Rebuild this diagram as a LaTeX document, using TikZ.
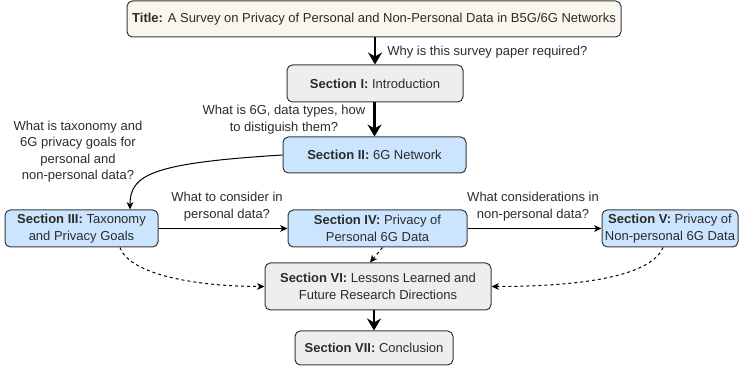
\documentclass[tikz,border=0pt]{standalone}
\usepackage{fontspec}
\setmainfont{Liberation Sans}
\usetikzlibrary{arrows.meta,calc}
\definecolor{bord}{HTML}{36393D}
\definecolor{grayf}{HTML}{EEEEEE}
\definecolor{bluef}{HTML}{CCE5FF}
\definecolor{beigef}{HTML}{F9F7ED}
\definecolor{txt}{HTML}{2B2B2B}
\begin{document}
\begin{tikzpicture}[x=0.75pt,y=-0.75pt,
  every node/.style={font=\fontsize{9.75}{12.4}\selectfont, text=txt, inner sep=0pt},
  box/.style={draw=bord, line width=0.75pt, rounded corners=4pt, align=center},
  graybox/.style={box, fill=grayf},
  bluebox/.style={box, fill=bluef},
  titlebox/.style={box, fill=beigef},
  bigarrow/.style={draw=black, line width=1.6pt, -{Stealth[length=9pt,width=10.5pt,inset=3pt]}},
  thinarrow/.style={draw=black, line width=0.75pt, -{Stealth[length=5.5pt,width=5pt,inset=1.5pt]}},
  dasharrow/.style={thinarrow, dash pattern=on 2.25pt off 2.25pt},
  lbl/.style={align=center}
]
\useasboundingbox (0,0) rectangle (740,366);

\node[titlebox, minimum width=370.5pt, minimum height=27pt] (t) at (374,19)
  {\textbf{Title:} A Survey on Privacy of Personal and Non-Personal Data in B5G/6G Networks};
\node[graybox, minimum width=132pt, minimum height=27.75pt] (s1) at (375,83.5)
  {\textbf{Section I:} Introduction};
\node[bluebox, minimum width=137.25pt, minimum height=27pt] (s2) at (374.5,155)
  {\textbf{Section II:} 6G Network};
\node[bluebox, minimum width=114.75pt, minimum height=27.75pt] (s3) at (81.5,228.5)
  {\textbf{Section III:} Taxonomy\\and Privacy Goals};
\node[bluebox, minimum width=134.25pt, minimum height=27.75pt] (s4) at (377.5,228.5)
  {\textbf{Section IV:} Privacy of\\Personal 6G Data};
\node[bluebox, minimum width=102pt, minimum height=27.75pt] (s5) at (670,228.5)
  {\textbf{Section V:} Privacy of\\Non-personal 6G Data};
\node[graybox, minimum width=169.5pt, minimum height=35.25pt] (s6) at (378,286.5)
  {\textbf{Section VI:} Lessons Learned and\\Future Research Directions};
\node[graybox, minimum width=118.5pt, minimum height=25.5pt] (s7) at (374,348)
  {\textbf{Section VII:} Conclusion};

% labels
\node[anchor=west] (l1) at (387,52) {Why is this survey paper required?};
\node[lbl] (l2) at (284,119.5) {What is 6G, data types, how\\to distiguish them?};
\node[lbl] (l3) at (78,151.5) {What is taxonomy and\\6G privacy goals for\\personal and\\non-personal data?};
\node[lbl] (l4) at (227,206.5) {What to consider in\\personal data?};
\node[lbl] (l5) at (533,206.5) {What considerations in\\non-personal data?};

% connectors
\draw[bigarrow] (t.south -| s1.north) -- (s1.north);
\draw[bigarrow] (s1.south -| s2.north) -- (s2.north);
\draw[bigarrow] (s6.south -| s7.north) -- (s7.north);
\draw[thinarrow] (s2.west) .. controls ($(s2.west)+(-130,8)$) and ($(s3.north)+(48.5,-35)$) .. ($(s3.north)+(48.5,0)$);
\draw[thinarrow] (s3.east) -- (s4.west);
\draw[thinarrow] (s4.east) -- (s5.west);
\draw[dasharrow] ($(s3.south)+(38.5,0)$) .. controls ($(s3.south)+(48.5,28)$) and ($(s6.west)+(-65,0)$) .. (s6.west);
\draw[dasharrow] ($(s4.south)+(5,0)$) -- ($(s6.north)+(-8,0)$);
\draw[dasharrow] ($(s5.south)+(-7,0)$) .. controls ($(s5.south)+(-20,31)$) and ($(s6.east)+(80,0)$) .. (s6.east);
\end{tikzpicture}
\end{document}
